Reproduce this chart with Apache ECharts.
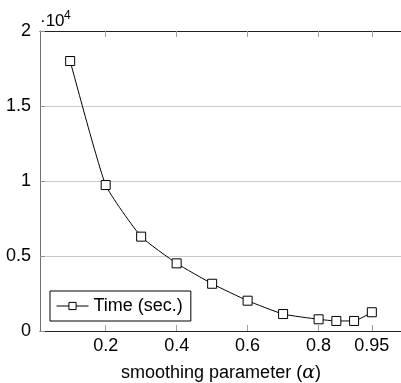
<!DOCTYPE html>
<html>
<head>
<meta charset="utf-8">
<script src="https://cdn.jsdelivr.net/npm/echarts@6/dist/echarts.min.js"></script>
<style>html,body{margin:0;padding:0;background:#fff}#c{width:401px;height:383px}</style>
</head>
<body>
<div id="c"></div>
<script>
const alphaValues = [0.1, 0.2, 0.3, 0.4, 0.5, 0.6, 0.7, 0.8, 0.85, 0.9, 0.95];
const timeValues = [18000, 9730, 6290, 4510, 3150, 2020, 1130, 780, 670, 670, 1250];
const xTicks = [0.2, 0.4, 0.6, 0.8, 0.95];
const yTicks = [0, 5000, 10000, 15000, 20000];
const seriesName = 'Time (sec.)';
const xLabel = 'smoothing parameter (';
const scaleBase = '·10';
const scaleExp = '4';

const FONT = '"Liberation Sans", Arial, Helvetica, sans-serif';
const FS = 18;
const chart = echarts.init(document.getElementById('c'), null, {renderer: 'canvas'});
const data = alphaValues.map((a, i) => [a, timeValues[i]]);

chart.setOption({
  animation: false,
  backgroundColor: '#fff',
  textStyle: {fontFamily: FONT},
  grid: {left: 40, top: 31, width: 362, bottom: 52, containLabel: false, outerBoundsMode: 'none'},
  legend: {
    left: 50, top: 291,
    backgroundColor: '#fff', borderColor: '#000', borderWidth: 1,
    padding: [6, 8, 6, 6], itemWidth: 32, itemHeight: 9, itemGap: 5,
    lineStyle: {width: 1, color: '#000'},
    itemStyle: {borderWidth: 1, borderColor: '#000', color: '#fff'},
    textStyle: {fontSize: FS, color: '#000', fontFamily: FONT},
    data: [seriesName]
  },
  graphic: [{
    type: 'text', left: 40, top: 13,
    style: {text: scaleBase, fontSize: 17, fontFamily: FONT, fill: '#000'}
  }, {
    type: 'text', left: 64, top: 10,
    style: {text: scaleExp, fontSize: 12, fontFamily: FONT, fill: '#000'}
  }],
  xAxis: [{
    type: 'value', min: 0.015, max: 1.035, position: 'bottom',
    name: '{n|' + xLabel + '}{g|α}{n|)}', nameLocation: 'middle', nameGap: 33,
    nameTextStyle: {
      rich: {
        n: {fontSize: FS, fontFamily: FONT, color: '#000'},
        g: {fontSize: 19, fontFamily: '"DejaVu Serif", serif', fontStyle: 'italic', color: '#000'}
      }
    },
    axisLine: {show: true, lineStyle: {color: '#222', width: 1}},
    axisTick: {show: true, inside: true, length: 6, lineStyle: {color: '#a0a0a0', width: 1}, customValues: xTicks},
    axisLabel: {customValues: xTicks, fontSize: FS, color: '#000', margin: 6, fontFamily: FONT,
      formatter: v => String(+v.toFixed(2))},
    splitLine: {show: false}
  }, {
    type: 'value', min: 0.015, max: 1.035, position: 'top',
    axisLine: {show: true, lineStyle: {color: '#222', width: 1}},
    axisTick: {show: true, inside: true, length: 6, lineStyle: {color: '#a0a0a0', width: 1}, customValues: xTicks},
    axisLabel: {show: false},
    splitLine: {show: false}
  }],
  yAxis: {
    type: 'value', min: yTicks[0], max: yTicks[yTicks.length - 1], interval: 5000,
    axisLine: {show: true, lineStyle: {color: '#707070', width: 1}},
    axisTick: {show: true, inside: true, length: 5, lineStyle: {color: '#909090'}},
    axisLabel: {fontSize: FS, color: '#000', margin: 9, fontFamily: FONT,
      formatter: v => String(v / 10000)},
    splitLine: {show: true, lineStyle: {color: '#c8c8c8', width: 1}}
  },
  series: [{
    name: seriesName, type: 'line', data: data, xAxisIndex: 0,
    smooth: 0.15,
    symbol: 'rect', symbolSize: 9, showAllSymbol: true,
    lineStyle: {color: '#000', width: 1},
    itemStyle: {color: '#fff', borderColor: '#000', borderWidth: 1},
    emphasis: {disabled: true}
  }]
});
</script>
</body>
</html>
